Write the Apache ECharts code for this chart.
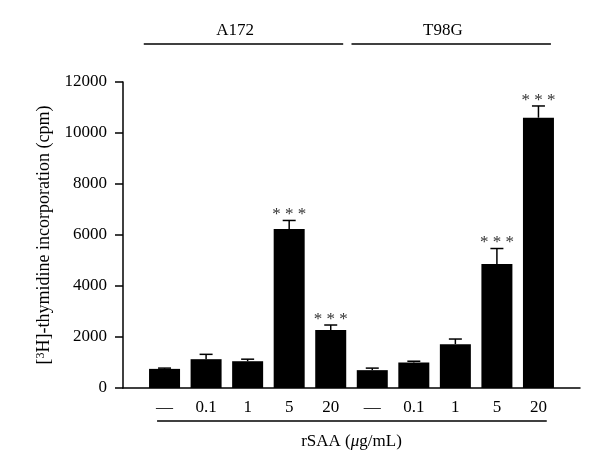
<!DOCTYPE html>
<html>
<head>
<meta charset="utf-8">
<script src="https://cdn.jsdelivr.net/npm/echarts@6/dist/echarts.min.js"></script>
<style>
  html, body { margin: 0; padding: 0; background: #fff; }
  .box { width: 600px; height: 465px; }
</style>
</head>
<body>
<div class="box"></div>
<script>
const chartDom = document.getElementsByClassName('box')[0];
const myChart = echarts.init(chartDom);
let option;

// rSAA dose labels, two cell lines side by side
const doseLabels = ['—', '0.1', '1', '5', '20', '—', '0.1', '1', '5', '20'];
const cellLines = ['A172', 'T98G'];
const groupStart = [0, 5];
const groupEnd = [4, 9];
// mean cpm and SEM
const cpm = [750, 1130, 1050, 6240, 2270, 700, 1000, 1720, 4860, 10600];
const sem = [30, 190, 80, 330, 200, 80, 50, 200, 610, 460];
const significant = [false, false, false, true, true, false, false, false, true, true];

const font = 'Liberation Serif';

const barData = cpm.map((v, i) => [i, v]);
const errData = cpm.map((v, i) => [i, v, sem[i], significant[i] ? 1 : 0]);
const groupData = cellLines.map((name, k) => [groupStart[k], groupEnd[k], name]);

option = {
    animation: false,
    grid: { left: 123, right: 20, top: 82, bottom: 77, containLabel: false, outerBoundsMode: 'none' },
    xAxis: {
        type: 'value',
        min: -1,
        max: 10,
        interval: 1,
        splitLine: { show: false },
        axisTick: { show: false },
        axisLine: { show: true, lineStyle: { color: '#000', width: 1.5 } },
        axisLabel: {
            margin: 11,
            color: '#000',
            fontFamily: font,
            fontSize: 17,
            formatter: function (v) {
                return doseLabels[v] !== undefined ? doseLabels[v] : '';
            }
        },
        name: 'rSAA ({it|μ}g/mL)',
        nameLocation: 'middle',
        nameGap: 45,
        nameTextStyle: {
            color: '#000',
            fontFamily: font,
            fontSize: 17,
            rich: { it: { fontStyle: 'italic', fontFamily: font, fontSize: 17, color: '#000' } }
        }
    },
    yAxis: {
        type: 'value',
        min: 0,
        max: 12000,
        interval: 2000,
        splitLine: { show: false },
        axisLine: { show: true, onZero: false, lineStyle: { color: '#000', width: 1.5 } },
        axisTick: { show: true, length: 8, lineStyle: { color: '#000', width: 1.5 } },
        axisLabel: {
            margin: 16, color: '#000', fontFamily: font, fontSize: 17,
            formatter: function (v) { return String(v); }
        },
        name: '[{sup|3}H]-thymidine incorporation (cpm)',
        nameLocation: 'middle',
        nameGap: 62,
        nameTextStyle: {
            color: '#000',
            fontFamily: font,
            fontSize: 18,
            rich: { sup: { fontSize: 12, fontFamily: font, color: '#000', verticalAlign: 'top', padding: [0, 0, 8, 0] } }
        }
    },
    series: [
        {
            type: 'bar',
            data: barData,
            barWidth: 31,
            itemStyle: { color: '#000' }
        },
        {
            // error bars (upper only) with significance marks
            type: 'custom',
            data: errData,
            z: 3,
            renderItem: function (params, api) {
                const i = api.value(0);
                const v = api.value(1);
                const e = api.value(2);
                const base = api.coord([i, v]);
                const top = api.coord([i, v + e]);
                const children = [
                    { type: 'line', shape: { x1: base[0], y1: base[1], x2: top[0], y2: top[1] }, style: { stroke: '#000', lineWidth: 1.5 } },
                    { type: 'line', shape: { x1: top[0] - 6.5, y1: top[1], x2: top[0] + 6.5, y2: top[1] }, style: { stroke: '#000', lineWidth: 1.5 } }
                ];
                if (api.value(3)) {
                    children.push({
                        type: 'text',
                        style: {
                            text: '* * *', x: top[0], y: top[1] + 3,
                            align: 'center', verticalAlign: 'bottom',
                            fill: '#333', font: '17px "Liberation Serif"'
                        }
                    });
                }
                return { type: 'group', children: children };
            }
        },
        {
            // cell line brackets on top and dose bracket below the labels
            type: 'custom',
            data: groupData,
            clip: false,
            silent: true,
            renderItem: function (params, api) {
                const a = api.coord([api.value(0) - 0.5, 0]);
                const b = api.coord([api.value(1) + 0.3, 0]);
                const c = api.coord([(api.value(0) + api.value(1)) / 2 - 0.3, 0]);
                const name = groupData[params.dataIndex][2];
                const children = [
                    { type: 'line', shape: { x1: a[0], y1: 44, x2: b[0], y2: 44 }, style: { stroke: '#000', lineWidth: 1.5 } },
                    { type: 'text', style: { text: name, x: c[0], y: 39, align: 'center', verticalAlign: 'bottom', fill: '#000', font: '17px "Liberation Serif"' } }
                ];
                if (params.dataIndex === 0) {
                    const l = api.coord([groupStart[0] - 0.18, 0]);
                    const r = api.coord([groupEnd[1] + 0.2, 0]);
                    children.push({ type: 'line', shape: { x1: l[0], y1: 421, x2: r[0], y2: 421 }, style: { stroke: '#000', lineWidth: 1.5 } });
                }
                return { type: 'group', children: children };
            }
        }
    ]
};

myChart.setOption(option);
</script>
</body>
</html>
